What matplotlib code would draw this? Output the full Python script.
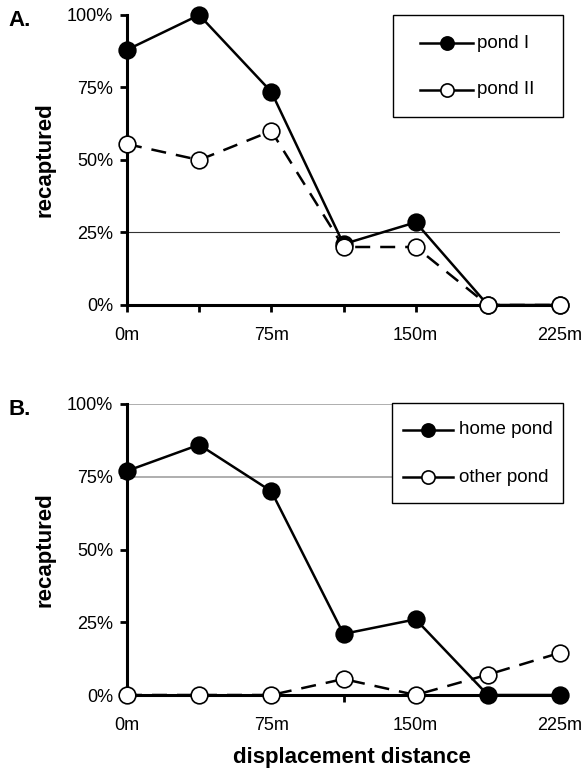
import matplotlib
matplotlib.use("Agg")
import matplotlib.pyplot as plt
from matplotlib.lines import Line2D
from matplotlib.patches import Rectangle

plt.rcParams['font.family'] = ['Liberation Sans', 'DejaVu Sans']

# displacement distance (m)
distance = [0, 37.5, 75, 112.5, 150, 187.5, 225]
tick_pos = [0, 75, 150, 225]
tick_labels = ["0m", "75m", "150m", "225m"]
y_ticks = [0, 25, 50, 75, 100]
y_labels = ["0%", "25%", "50%", "75%", "100%"]

# panel A: recaptured (%)
pond_1 = [88, 100, 73.5, 21, 28.5, 0, 0]
pond_2 = [55.5, 50, 60, 20, 20, 0, 0]

# panel B: recaptured (%)
home_pond = [77, 86, 70, 21, 26, 0, 0]
other_pond = [0, 0, 0, 5.5, 0, 7, 14.5]

W, H = 585, 773
fig = plt.figure(figsize=(W / 100, H / 100), dpi=100)


def px_axes(left, top, right, bottom):
    return fig.add_axes([left / W, 1 - bottom / H, (right - left) / W, (bottom - top) / H])


def style_axes(ax, grid_levels, grid_color, grid_lw):
    ax.set_xlim(0, 225)
    ax.set_ylim(0, 100)
    for lvl in grid_levels:
        ax.axhline(lvl, color=grid_color, lw=grid_lw, zorder=0)
    for s in ("top", "right"):
        ax.spines[s].set_visible(False)
    for s in ("left", "bottom"):
        ax.spines[s].set_linewidth(2.2)
        ax.spines[s].set_zorder(1)
    ax.set_yticks(y_ticks)
    ax.set_yticklabels(y_labels)
    ax.set_xticks(tick_pos)
    ax.set_xticklabels(tick_labels)
    ax.set_xticks([37.5, 112.5, 187.5], minor=True)
    ax.tick_params(axis="y", direction="out", length=5, width=2, labelsize=13, pad=5)
    ax.tick_params(axis="x", which="both", direction="out", length=5, width=2,
                   labelsize=13, pad=11)
    ax.set_ylabel("recaptured", fontsize=16, fontweight="bold", labelpad=8)


def draw_series(ax, filled, hollow):
    ax.plot(distance, filled, color="black", lw=1.8, marker="o", ms=12,
            mfc="black", mec="black", mew=1.2, clip_on=False, zorder=3)
    ax.plot(distance, hollow, color="black", lw=1.8, dashes=(6, 4), marker="o", ms=12,
            mfc="white", mec="black", mew=1.2, clip_on=False, zorder=4)


def draw_legend(ax, box, labels, line_x, text_x, rows):
    left, top, right, bottom = box
    fig.patches.append(Rectangle((left / W, 1 - bottom / H), (right - left) / W,
                                 (bottom - top) / H, transform=fig.transFigure,
                                 fill=True, facecolor="white", edgecolor="black",
                                 lw=1.0, zorder=5))
    for (label, mfc), y in zip(labels, rows):
        fig.add_artist(Line2D([line_x[0] / W, line_x[1] / W], [1 - y / H, 1 - y / H],
                              color="black", lw=1.8, zorder=6))
        fig.add_artist(Line2D([(line_x[0] + line_x[1]) / 2 / W], [1 - y / H], marker="o",
                              ms=9.5, mfc=mfc, mec="black", mew=1.2, zorder=7))
        fig.text(text_x / W, 1 - y / H, label, fontsize=13.5, va="center", ha="left",
                 zorder=8)


# panel A
ax_a = px_axes(127, 15, 560, 305)
style_axes(ax_a, [25], "#333333", 0.8)
draw_series(ax_a, pond_1, pond_2)
draw_legend(ax_a, (393, 15, 563, 117), [("pond I", "black"), ("pond II", "white")],
            (420, 473), 477, [43, 90])
fig.text(8 / W, 1 - 21 / H, "A.", fontsize=16, fontweight="bold", va="center")

# panel B
ax_b = px_axes(127, 404, 560, 695)
style_axes(ax_b, [75, 100], "#999999", 1.1)
draw_series(ax_b, home_pond, other_pond)
draw_legend(ax_b, (392, 403, 563, 503), [("home pond", "black"), ("other pond", "white")],
            (403, 453), 459, [430, 477])
fig.text(8 / W, 1 - 410 / H, "B.", fontsize=16, fontweight="bold", va="center")
fig.text(352 / W, 1 - 758 / H, "displacement distance", fontsize=16, fontweight="bold",
         ha="center", va="center")

fig.savefig("out.png", dpi=100)
